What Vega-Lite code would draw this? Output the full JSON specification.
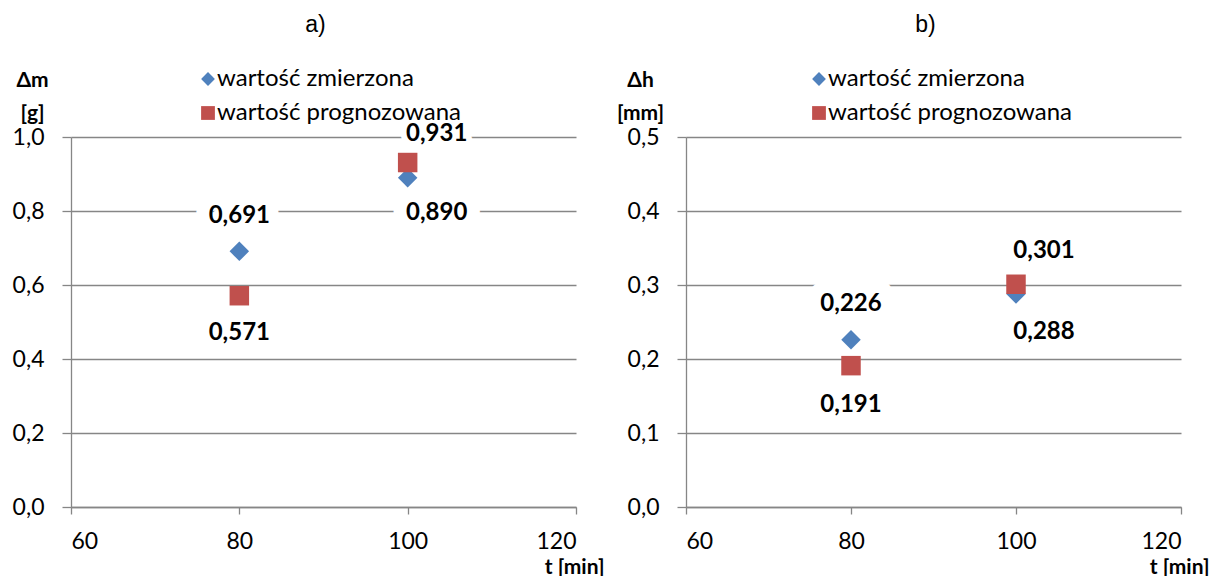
{
  "$schema": "https://vega.github.io/schema/vega-lite/v6.json",
  "background": "white",
  "padding": {"left": 12, "top": 14, "right": 0, "bottom": 0},
  "bounds": "flush",
  "spacing": 110,
  "config": {
    "locale": {"number": {"decimal": ",", "thousands": " ", "grouping": [3], "currency": ["", " zł"]}},
    "view": {"stroke": null},
    "axis": {
      "domainColor": "#868686", "domainWidth": 1.3,
      "gridColor": "#868686", "gridWidth": 1.3,
      "tickColor": "#868686", "tickWidth": 1.3,
      "labelFont": "Lato", "labelFontSize": 23, "labelColor": "#000000",
      "titleFont": "Lato", "titleFontWeight": "bold", "titleFontSize": 21, "titleColor": "#000000"
    },
    "axisX": {"grid": false, "tickSize": 7, "labelPadding": 16},
    "axisY": {"grid": true, "tickSize": 9, "labelPadding": 18},
    "legend": {"title": null, "labelFont": "Lato", "labelFontSize": 24, "labelLimit": 0, "labelColor": "#000000", "symbolSize": 190, "rowPadding": 10, "labelOffset": -3, "symbolStrokeWidth": 0, "symbolOpacity": 1},
    "text": {"font": "Lato", "fontWeight": "bold", "fontSize": 24, "color": "#000000"}
  },
  "datasets": {
    "a": [
      {"t": 80, "value": 0.691, "series": "wartość zmierzona"},
      {"t": 100, "value": 0.890, "series": "wartość zmierzona"},
      {"t": 80, "value": 0.571, "series": "wartość prognozowana"},
      {"t": 100, "value": 0.931, "series": "wartość prognozowana"}
    ],
    "b": [
      {"t": 80, "value": 0.226, "series": "wartość zmierzona"},
      {"t": 100, "value": 0.288, "series": "wartość zmierzona"},
      {"t": 80, "value": 0.191, "series": "wartość prognozowana"},
      {"t": 100, "value": 0.301, "series": "wartość prognozowana"}
    ]
  },
  "resolve": {
    "scale": {"x": "independent", "y": "independent", "color": "independent", "shape": "independent"},
    "legend": {"color": "independent", "shape": "independent"}
  },
  "hconcat": [
    {
      "width": 505, "height": 370,
      "title": {"text": "a)", "font": "Liberation Sans", "fontSize": 23, "fontWeight": "normal", "frame": "group", "anchor": "middle", "offset": 30, "color": "#000000", "dx": -8},
      "data": {"name": "a"},
      "encoding": {
        "x": {"field": "t", "type": "quantitative", "scale": {"domain": [60, 120], "nice": false},
              "axis": {"values": [60, 80, 100, 120], "title": "t [min]", "titleX": 533, "titleY": 60, "titleAlign": "right", "titleBaseline": "middle"}},
        "y": {"field": "value", "type": "quantitative", "scale": {"domain": [0, 1], "nice": false},
              "axis": {"values": [0, 0.2, 0.4, 0.6, 0.8, 1], "format": ".1f", "title": ["Δm", "[g]"], "titleAngle": 0, "titleAlign": "center", "titleBaseline": "middle", "titleX": -39, "titleY": -57, "titleLineHeight": 33}}
      },
      "layer": [
        {"transform": [{"filter": "datum.t == 80 && datum.series == 'wartość zmierzona'"}],
         "mark": {"type": "text", "dy": -35, "color": "white", "stroke": "white", "strokeWidth": 26, "strokeJoin": "round"},
         "encoding": {"text": {"field": "value", "type": "quantitative", "format": ".3f"}}},
        {"transform": [{"filter": "datum.t == 80 && datum.series == 'wartość prognozowana'"}],
         "mark": {"type": "text", "dy": 37, "color": "white", "stroke": "white", "strokeWidth": 26, "strokeJoin": "round"},
         "encoding": {"text": {"field": "value", "type": "quantitative", "format": ".3f"}}},
        {"transform": [{"filter": "datum.t == 100 && datum.series == 'wartość prognozowana'"}],
         "mark": {"type": "text", "dy": -29, "dx": 29, "color": "white", "stroke": "white", "strokeWidth": 12, "strokeJoin": "round"},
         "encoding": {"text": {"field": "value", "type": "quantitative", "format": ".3f"}}},
        {"transform": [{"filter": "datum.t == 100 && datum.series == 'wartość zmierzona'"}],
         "mark": {"type": "text", "dy": 35, "dx": 29, "color": "white", "stroke": "white", "strokeWidth": 26, "strokeJoin": "round"},
         "encoding": {"text": {"field": "value", "type": "quantitative", "format": ".3f"}}},
        {"mark": {"type": "point", "filled": true, "opacity": 1, "size": 380},
         "encoding": {
           "color": {"field": "series", "type": "nominal", "scale": {"domain": ["wartość zmierzona", "wartość prognozowana"], "range": ["#4F81BD", "#C0504D"]},
                     "legend": {"orient": "none", "legendX": 125, "legendY": -70}},
           "shape": {"field": "series", "type": "nominal", "scale": {"domain": ["wartość zmierzona", "wartość prognozowana"], "range": ["diamond", "square"]},
                     "legend": {"orient": "none", "legendX": 125, "legendY": -70}}
         }},
        {"transform": [{"filter": "datum.t == 80 && datum.series == 'wartość zmierzona'"}],
         "mark": {"type": "text", "dy": -35},
         "encoding": {"text": {"field": "value", "type": "quantitative", "format": ".3f"}}},
        {"transform": [{"filter": "datum.t == 80 && datum.series == 'wartość prognozowana'"}],
         "mark": {"type": "text", "dy": 37},
         "encoding": {"text": {"field": "value", "type": "quantitative", "format": ".3f"}}},
        {"transform": [{"filter": "datum.t == 100 && datum.series == 'wartość prognozowana'"}],
         "mark": {"type": "text", "dy": -29, "dx": 29},
         "encoding": {"text": {"field": "value", "type": "quantitative", "format": ".3f"}}},
        {"transform": [{"filter": "datum.t == 100 && datum.series == 'wartość zmierzona'"}],
         "mark": {"type": "text", "dy": 35, "dx": 29},
         "encoding": {"text": {"field": "value", "type": "quantitative", "format": ".3f"}}}
      ]
    },
    {
      "width": 495, "height": 370,
      "title": {"text": "b)", "font": "Liberation Sans", "fontSize": 23, "fontWeight": "normal", "frame": "group", "anchor": "middle", "offset": 30, "color": "#000000", "dx": -8},
      "data": {"name": "b"},
      "encoding": {
        "x": {"field": "t", "type": "quantitative", "scale": {"domain": [60, 120], "nice": false},
              "axis": {"values": [60, 80, 100, 120], "title": "t [min]", "titleX": 523, "titleY": 60, "titleAlign": "right", "titleBaseline": "middle"}},
        "y": {"field": "value", "type": "quantitative", "scale": {"domain": [0, 0.5], "nice": false},
              "axis": {"values": [0, 0.1, 0.2, 0.3, 0.4, 0.5], "format": ".1f", "title": ["Δh", "[mm]"], "titleAngle": 0, "titleAlign": "center", "titleBaseline": "middle", "titleX": -46, "titleY": -57, "titleLineHeight": 33}}
      },
      "layer": [
        {"transform": [{"filter": "datum.t == 80 && datum.series == 'wartość zmierzona'"}],
         "mark": {"type": "text", "dy": -36, "color": "white", "stroke": "white", "strokeWidth": 26, "strokeJoin": "round"},
         "encoding": {"text": {"field": "value", "type": "quantitative", "format": ".3f"}}},
        {"transform": [{"filter": "datum.t == 80 && datum.series == 'wartość prognozowana'"}],
         "mark": {"type": "text", "dy": 39, "color": "white", "stroke": "white", "strokeWidth": 26, "strokeJoin": "round"},
         "encoding": {"text": {"field": "value", "type": "quantitative", "format": ".3f"}}},
        {"transform": [{"filter": "datum.t == 100 && datum.series == 'wartość prognozowana'"}],
         "mark": {"type": "text", "dy": -33, "dx": 28, "color": "white", "stroke": "white", "strokeWidth": 26, "strokeJoin": "round"},
         "encoding": {"text": {"field": "value", "type": "quantitative", "format": ".3f"}}},
        {"transform": [{"filter": "datum.t == 100 && datum.series == 'wartość zmierzona'"}],
         "mark": {"type": "text", "dy": 38, "dx": 28, "color": "white", "stroke": "white", "strokeWidth": 26, "strokeJoin": "round"},
         "encoding": {"text": {"field": "value", "type": "quantitative", "format": ".3f"}}},
        {"mark": {"type": "point", "filled": true, "opacity": 1, "size": 380},
         "encoding": {
           "color": {"field": "series", "type": "nominal", "scale": {"domain": ["wartość zmierzona", "wartość prognozowana"], "range": ["#4F81BD", "#C0504D"]},
                     "legend": {"orient": "none", "legendX": 121, "legendY": -70}},
           "shape": {"field": "series", "type": "nominal", "scale": {"domain": ["wartość zmierzona", "wartość prognozowana"], "range": ["diamond", "square"]},
                     "legend": {"orient": "none", "legendX": 121, "legendY": -70}}
         }},
        {"transform": [{"filter": "datum.t == 80 && datum.series == 'wartość zmierzona'"}],
         "mark": {"type": "text", "dy": -36},
         "encoding": {"text": {"field": "value", "type": "quantitative", "format": ".3f"}}},
        {"transform": [{"filter": "datum.t == 80 && datum.series == 'wartość prognozowana'"}],
         "mark": {"type": "text", "dy": 39},
         "encoding": {"text": {"field": "value", "type": "quantitative", "format": ".3f"}}},
        {"transform": [{"filter": "datum.t == 100 && datum.series == 'wartość prognozowana'"}],
         "mark": {"type": "text", "dy": -33, "dx": 28},
         "encoding": {"text": {"field": "value", "type": "quantitative", "format": ".3f"}}},
        {"transform": [{"filter": "datum.t == 100 && datum.series == 'wartość zmierzona'"}],
         "mark": {"type": "text", "dy": 38, "dx": 28},
         "encoding": {"text": {"field": "value", "type": "quantitative", "format": ".3f"}}}
      ]
    }
  ]
}
